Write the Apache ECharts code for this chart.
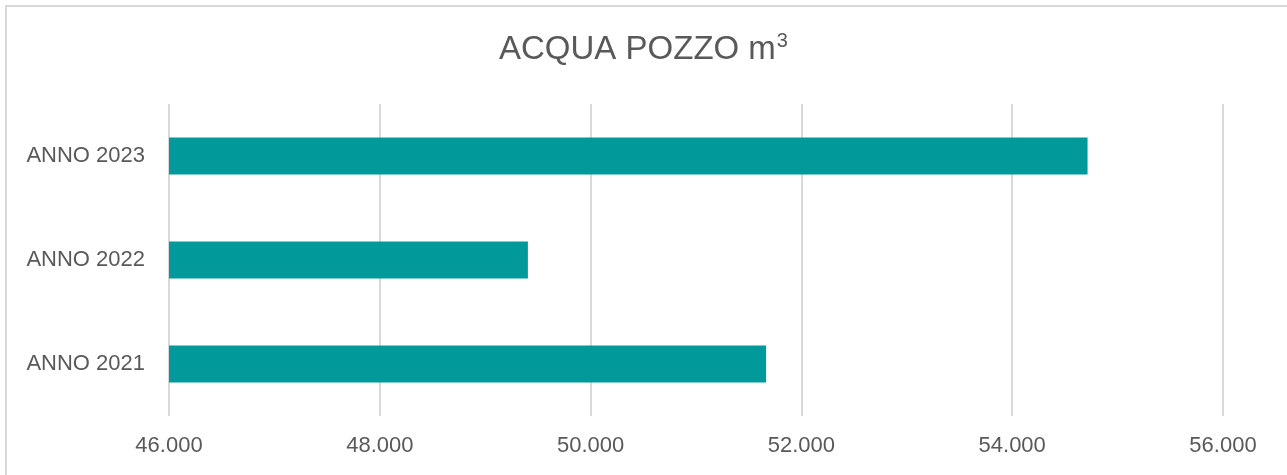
<!DOCTYPE html>
<html>
<head>
<meta charset="utf-8">
<script src="https://cdn.jsdelivr.net/npm/echarts@6/dist/echarts.min.js"></script>
<style>
    html, body {
        margin: 0;
        padding: 0;
        background: #fff;
    }
    .frame {
        position: absolute;
        left: 5px;
        top: 5px;
        width: 1300px;
        height: 500px;
        border-left: 2px solid #d9d9d9;
        border-top: 2px solid #d9d9d9;
    }
    #chart {
        position: absolute;
        left: 0;
        top: 0;
        width: 1287px;
        height: 475px;
    }
</style>
</head>
<body>
<div class="frame"></div>
<div id="chart"></div>
<script>
// dati
const categories = ['ANNO 2021', 'ANNO 2022', 'ANNO 2023'];
const values = [51665, 49405, 54715];
const xTicks = [46000, 48000, 50000, 52000, 54000, 56000];

const chartInstance = echarts.init(document.getElementById('chart'));

const textColor = '#595959';
const fontFamily = 'Liberation Sans, Arial, sans-serif';

const options = {
    animation: false,
    title: {
        text: 'ACQUA POZZO m{sup|3}',
        left: 'center',
        top: 26,
        textStyle: {
            color: textColor,
            fontSize: 33,
            fontWeight: 'normal',
            fontFamily: fontFamily,
            rich: {
                sup: {
                    color: textColor,
                    fontSize: 20,
                    fontFamily: fontFamily,
                    padding: [0, 0, 18, 1]
                }
            }
        }
    },
    grid: {
        left: 169,
        right: 64,
        top: 104,
        bottom: 59,
        containLabel: false
    },
    xAxis: {
        type: 'value',
        min: xTicks[0],
        max: xTicks[xTicks.length - 1],
        interval: 2000,
        axisLine: { show: false },
        axisTick: { show: false },
        splitLine: {
            show: true,
            lineStyle: { color: '#d9d9d9', width: 2 }
        },
        axisLabel: {
            color: textColor,
            fontSize: 22,
            fontFamily: fontFamily,
            margin: 19,
            // formato italiano: 46.000
            formatter: (v) => String(v).replace(/(\d)(?=(\d{3})+$)/g, '$1.')
        }
    },
    yAxis: {
        type: 'category',
        data: categories,
        axisLine: { show: false },
        axisTick: { show: false },
        axisLabel: {
            color: textColor,
            fontSize: 22,
            fontFamily: fontFamily,
            margin: 24
        }
    },
    series: [
        {
            type: 'bar',
            data: values,
            barWidth: 37,
            itemStyle: {
                color: '#019999'
            }
        }
    ]
};

chartInstance.setOption(options);
</script>
</body>
</html>
